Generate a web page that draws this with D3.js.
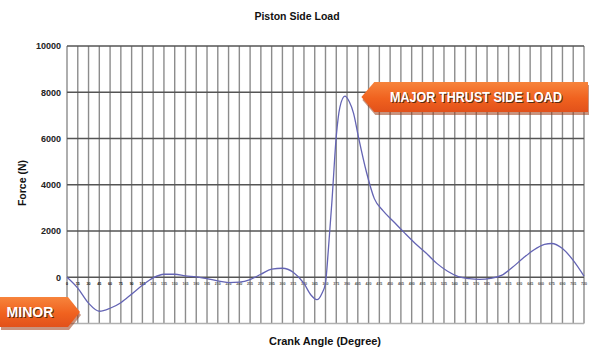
<!DOCTYPE html>
<html>
<head>
<meta charset="utf-8">
<script src="https://cdn.jsdelivr.net/npm/d3@7"></script>
<style>
  body { margin: 0; background: #fff; }
  text { font-family: "Liberation Sans", Arial, sans-serif; }
</style>
</head>
<body>
<div id="chart"></div>
<script>
// Crank angle (deg) and side load force (N)
const angles = [0, 15, 30, 45, 60, 75, 90, 105, 120, 135, 150, 165, 180, 195, 210, 225, 240, 255, 270, 285, 300, 315, 330,
    340, 348, 355, 360, 364, 369, 375, 380, 387, 393, 399, 406, 417, 428, 440,
    455, 470, 485, 500, 515, 530, 545, 560, 575, 590, 605, 620, 635, 650, 665, 675, 690, 705, 720];
const force = [0, -470, -1120, -1470, -1340, -1100, -730, -350, -30, 130, 130, 60, 20, -60, -160, -230, -210, -100, 130, 350, 390, 220, -270,
    -780, -970, -700, -250, 1200, 3300, 6100, 7350, 7830, 7600, 7100, 6050, 4550, 3400, 2880,
    2400, 1920, 1460, 1050, 600, 260, 30, -60, -90, -50, 80, 420, 820, 1180, 1420, 1460, 1240, 730, 50];

const xTicks = d3.range(0, 721, 15);
const yTicks = [0, 2000, 4000, 6000, 8000, 10000];

const width = 600, height = 353;
const svg = d3.select("#chart").append("svg")
    .attr("width", width)
    .attr("height", height);

const x = d3.scaleLinear().domain([0, 720]).range([67, 584]);
const y = d3.scaleLinear().domain([-2000, 10000]).range([323.5, 46]);

// vertical grid
svg.append("g").selectAll("line")
    .data(xTicks)
    .enter()
    .append("line")
    .attr("x1", d => x(d)).attr("x2", d => x(d))
    .attr("y1", y(10000)).attr("y2", y(-2000))
    .attr("stroke", "#8c8c8c")
    .attr("stroke-width", 1.4);

// horizontal grid (bottom edge a lighter line)
svg.append("g").selectAll("line")
    .data([-2000].concat(yTicks))
    .enter()
    .append("line")
    .attr("x1", x(0)).attr("x2", x(720))
    .attr("y1", d => y(d)).attr("y2", d => y(d))
    .attr("stroke", d => d === -2000 ? "#b0b0b0" : "#555")
    .attr("stroke-width", 1.3);

// y axis labels
const yAxis = svg.append("g")
    .attr("transform", `translate(${x(0) - 6},0)`)
    .call(d3.axisLeft(y).tickValues(yTicks).tickFormat(d3.format("d")).tickSize(0).tickPadding(0));
yAxis.select(".domain").remove();
yAxis.selectAll("text")
    .style("font-family", "'Liberation Sans', Arial, sans-serif")
    .style("font-size", "9px")
    .style("font-weight", "bold")
    .attr("fill", "#222");

// tiny angle labels sitting just under the zero line
svg.append("g").selectAll("text")
    .data(xTicks)
    .enter()
    .append("text")
    .attr("x", d => x(d))
    .attr("y", y(0) + 8)
    .attr("text-anchor", "middle")
    .style("font-size", "3.6px")
    .style("font-weight", "bold")
    .attr("fill", d => d < 120 ? "#111" : "#555")
    .text(d => d);

// the load curve
const line = d3.line()
    .x((d, i) => x(angles[i]))
    .y(d => y(d))
    .curve(d3.curveMonotoneX);

svg.append("path")
    .datum(force)
    .attr("d", line)
    .attr("fill", "none")
    .attr("stroke", "#6464b4")
    .attr("stroke-width", 1.3);

// titles
svg.append("text")
    .attr("x", 297)
    .attr("y", 20)
    .attr("text-anchor", "middle")
    .style("font-size", "10.5px")
    .style("font-weight", "bold")
    .attr("fill", "#111")
    .text("Piston Side Load");

svg.append("text")
    .attr("x", 325)
    .attr("y", 345)
    .attr("text-anchor", "middle")
    .style("font-size", "11px")
    .style("font-weight", "bold")
    .attr("fill", "#111")
    .text("Crank Angle (Degree)");

svg.append("text")
    .attr("transform", "translate(26,183) rotate(-90)")
    .attr("text-anchor", "middle")
    .style("font-size", "10.5px")
    .style("font-weight", "bold")
    .attr("fill", "#111")
    .text("Force (N)");

// orange callout banners
const defs = svg.append("defs");
const grad = defs.append("linearGradient")
    .attr("id", "orange")
    .attr("x1", 0).attr("y1", 0).attr("x2", 0).attr("y2", 1);
grad.append("stop").attr("offset", "0%").attr("stop-color", "#f7843c");
grad.append("stop").attr("offset", "55%").attr("stop-color", "#f0621f");
grad.append("stop").attr("offset", "100%").attr("stop-color", "#e2511a");

function banner(tipX, tipY, left, right, h, label, textX, textLen, pointLeft) {
    const top = tipY - h / 2, bot = tipY + h / 2;
    let pts;
    if (pointLeft) {
        pts = [[tipX, tipY], [left, top], [right, top], [right, bot], [left, bot]];
    } else {
        pts = [[left, top], [right, top], [tipX, tipY], [right, bot], [left, bot]];
    }
    const g = svg.append("g");
    g.append("polygon")
        .attr("points", pts.map(p => [p[0] + 1, p[1] + 3].join(",")).join(" "))
        .attr("fill", "#9a3a14")
        .attr("opacity", 0.55);
    g.append("polygon")
        .attr("points", pts.map(p => p.join(",")).join(" "))
        .attr("fill", "url(#orange)");
    g.append("text")
        .attr("x", textX + 1)
        .attr("y", tipY + 5.8)
        .attr("text-anchor", "middle")
        .attr("textLength", textLen)
        .attr("lengthAdjust", "spacingAndGlyphs")
        .style("font-size", "14px")
        .style("font-weight", "bold")
        .attr("fill", "#5a2a10")
        .text(label);
    g.append("text")
        .attr("x", textX)
        .attr("y", tipY + 4.8)
        .attr("text-anchor", "middle")
        .attr("textLength", textLen)
        .attr("lengthAdjust", "spacingAndGlyphs")
        .style("font-size", "14px")
        .style("font-weight", "bold")
        .attr("fill", "#fff")
        .text(label);
}

banner(x(410), y(7800), x(428), 588, 30, "MAJOR THRUST SIDE LOAD", 476, 172, true);
banner(80, y(-1500), 0, 68, 30, "MINOR", 30, 47, false);
</script>
</body>
</html>
